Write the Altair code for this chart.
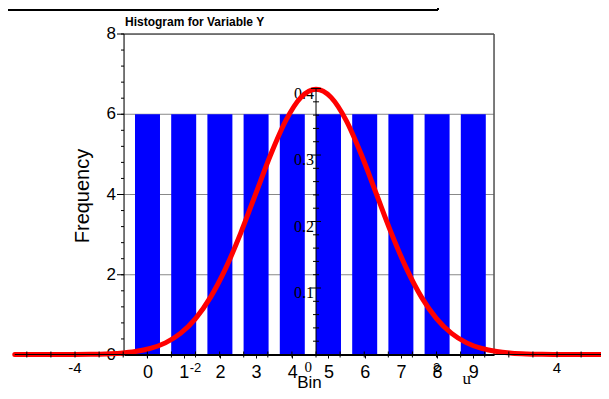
import altair as alt
import pandas as pd

# ---------------- data ----------------
bins = [0, 1, 2, 3, 4, 5, 6, 7, 8, 9]
freq = [6, 6, 6, 6, 6, 6, 6, 6, 6, 6]
freq_ticks = [0, 2, 4, 6, 8]
freq_labels = ["0", "2", "4", "6", "8"]
grid_vals = [2, 4, 6]
freq_minor = [round(0.4 * i, 1) for i in range(21)]

# red curve
curve_u = [-5.0, -4.5, -4.0, -3.75, -3.5, -3.25, -3.0, -2.75, -2.5, -2.25, -2.0, -1.75, -1.5,
           -1.25, -1.0, -0.75, -0.5, -0.25, 0.0, 0.25, 0.5, 0.75, 1.0, 1.25, 1.5, 1.75,
           2.0, 2.25, 2.5, 2.75, 3.0, 3.25, 3.5, 3.75, 4.0, 4.5, 5.0]
curve_d = [0.0, 0.0, 0.0001, 0.0004, 0.0009, 0.002, 0.0044, 0.0091, 0.0175, 0.0317, 0.054, 0.0863, 0.1295,
           0.1826, 0.242, 0.3011, 0.3521, 0.3867, 0.3989, 0.3867, 0.3521, 0.3011, 0.242, 0.1826, 0.1295, 0.0863,
           0.054, 0.0317, 0.0175, 0.0091, 0.0044, 0.002, 0.0009, 0.0004, 0.0001, 0.0, 0.0]

u_label_pos = [-4, -2, 2, 4]
u_label_txt = ["-4", "-2", "2", "4"]
u_label_size = [15, 13, 13, 15]
u_minor = [round(0.4 * i, 1) for i in range(-12, 13)]
d_label_pos = [0.1, 0.2, 0.3, 0.4]
d_label_txt = ["0.1", "0.2", "0.3", "0.4"]
d_minor = [round(0.02 * i, 2) for i in range(1, 21)]

title_txt = "Histogram for Variable Y"
y_title_txt = "Frequency"

W, H = 370, 321

# ---------------- main histogram ----------------
mx = alt.Scale(domain=[-0.649, 9.572], nice=False, zero=False, padding=0)
my = alt.Scale(domain=[0, 8], nice=False, zero=False, padding=0)

grid_df = pd.DataFrame({"g": grid_vals})
grid = alt.Chart(grid_df).mark_rule(color="#888888", strokeWidth=1).encode(
    y=alt.Y("g:Q", scale=my, axis=None), x=alt.value(0), x2=alt.value(W))

# custom left (frequency) axis
ylab_df = pd.DataFrame({"v": freq_ticks, "t": freq_labels})
ylabels = alt.Chart(ylab_df).mark_text(
    font="Liberation Sans", fontSize=17, align="right", baseline="middle", color="black"
).encode(y=alt.Y("v:Q", scale=my, axis=None), x=alt.value(-8), text="t:N")
ymajor = alt.Chart(ylab_df).mark_rule(color="black", strokeWidth=1).encode(
    y=alt.Y("v:Q", scale=my, axis=None), x=alt.value(-7), x2=alt.value(0))
fm_df = pd.DataFrame({"v": freq_minor})
fminor = alt.Chart(fm_df).mark_rule(color="black", strokeWidth=1).encode(
    y=alt.Y("v:Q", scale=my, axis=None), x=alt.value(-3), x2=alt.value(0))

ytitle_df = pd.DataFrame({"t": [y_title_txt]})
ytitle = alt.Chart(ytitle_df).mark_text(
    font="Liberation Sans", fontSize=20, angle=270, align="center", baseline="middle", color="black"
).encode(text="t:N", x=alt.value(-41), y=alt.value(162))

frame_df = pd.DataFrame({"k": [1]})
yline = alt.Chart(frame_df).mark_rule(color="black", strokeWidth=1).encode(
    x=alt.value(0), y=alt.value(0), y2=alt.value(H))

bars_df = pd.DataFrame({"bin": bins, "freq": freq})
bars = alt.Chart(bars_df).mark_bar(color="#0000FF", width=25).encode(
    x=alt.X("bin:Q", scale=mx, axis=alt.Axis(
        values=bins, title="Bin", format="d", zindex=1,
        labelFontSize=18, labelFont="Liberation Sans", labelColor="black",
        tickSize=3, tickColor="black", domainColor="black", labelPadding=5,
        titleFontSize=17, titleFont="Liberation Sans", titleFontWeight="normal",
        titleColor="black", titleBaseline="alphabetic", titleY=32, grid=False)),
    y=alt.Y("freq:Q", scale=my, axis=None),
)

frame_top = alt.Chart(frame_df).mark_rule(color="black", strokeWidth=1).encode(
    x=alt.value(0), x2=alt.value(W), y=alt.value(0))
frame_right = alt.Chart(frame_df).mark_rule(color="#555555", strokeWidth=1.5).encode(
    x=alt.value(W), y=alt.value(0), y2=alt.value(H))

title_df = pd.DataFrame({"t": [title_txt]})
title = alt.Chart(title_df).mark_text(
    font="Liberation Sans", fontWeight="bold", fontSize=12,
    align="left", baseline="alphabetic", color="black"
).encode(text="t:N", x=alt.value(1), y=alt.value(-8))

box_h = alt.Chart(frame_df).mark_rule(color="black", strokeWidth=2).encode(
    x=alt.value(-116), x2=alt.value(314), y=alt.value(-24))
box_v = alt.Chart(frame_df).mark_rule(color="black", strokeWidth=2).encode(
    x=alt.value(314), y=alt.value(-40), y2=alt.value(-24))

main = alt.layer(grid, ylabels, ytitle, bars, ymajor, fminor, yline,
                 frame_top, frame_right, title, box_h, box_v)

# ---------------- overlaid curve with its own axes ----------------
cx = alt.Scale(domain=[-3.187, 2.954], nice=False, zero=False, padding=0)
cy = alt.Scale(domain=[-0.00075, 0.482], nice=False, zero=False, padding=0)

curve_df = pd.DataFrame({"u": curve_u, "d": curve_d})

ulab_df = pd.DataFrame({"u": u_label_pos, "t": u_label_txt, "fs": u_label_size})
ulab = alt.Chart(ulab_df).transform_calculate(d0="0").mark_text(
    font="Liberation Sans", baseline="middle", align="center", dy=13, color="black"
).encode(x=alt.X("u:Q", scale=cx, axis=None), y=alt.Y("d0:Q", scale=cy, axis=None),
         text="t:N", size=alt.Size("fs:Q", scale=None, legend=None))

zero_df = pd.DataFrame({"u": [0], "t": ["0"]})
zlab = alt.Chart(zero_df).transform_calculate(d0="0").mark_text(
    font="Liberation Serif", fontSize=15, baseline="middle", align="right", dx=-4, dy=12, color="black"
).encode(x=alt.X("u:Q", scale=cx, axis=None), y=alt.Y("d0:Q", scale=cy, axis=None), text="t:N")

uname_df = pd.DataFrame({"u": [2.5], "t": ["u"]})
uname = alt.Chart(uname_df).transform_calculate(d0="0").mark_text(
    font="Liberation Serif", fontSize=17, baseline="middle", align="center", dy=24, color="black"
).encode(x=alt.X("u:Q", scale=cx, axis=None), y=alt.Y("d0:Q", scale=cy, axis=None), text="t:N")

dlab_df = pd.DataFrame({"d": d_label_pos, "t": d_label_txt})
dlab = alt.Chart(dlab_df).transform_calculate(u0="0").mark_text(
    font="Liberation Serif", fontSize=16, baseline="middle", align="right", dx=-2, dy=5, color="black"
).encode(x=alt.X("u0:Q", scale=cx, axis=None), y=alt.Y("d:Q", scale=cy, axis=None), text="t:N")

curve = alt.Chart(curve_df).mark_line(
    color="#FF0000", strokeWidth=5, strokeCap="round", strokeJoin="round", interpolate="monotone"
).encode(x=alt.X("u:Q", scale=cx, axis=None), y=alt.Y("d:Q", scale=cy, axis=None))

uaxis_df = pd.DataFrame({"a": [-5.0], "b": [5.0]})
uaxis = alt.Chart(uaxis_df).transform_calculate(d0="0").mark_rule(color="black", strokeWidth=1).encode(
    x=alt.X("a:Q", scale=cx, axis=None), x2="b:Q", y=alt.Y("d0:Q", scale=cy, axis=None))

uticks_df = pd.DataFrame({"u": u_minor})
uticks = alt.Chart(uticks_df).transform_calculate(y0="-0.0045", y1="0.0045").mark_rule(
    color="black", strokeWidth=1).encode(
    x=alt.X("u:Q", scale=cx, axis=None), y=alt.Y("y0:Q", scale=cy, axis=None), y2="y1:Q")

daxis_df = pd.DataFrame({"a": [0.0], "b": [0.4]})
daxis = alt.Chart(daxis_df).transform_calculate(u0="0").mark_rule(color="black", strokeWidth=1).encode(
    x=alt.X("u0:Q", scale=cx, axis=None), y=alt.Y("a:Q", scale=cy, axis=None), y2="b:Q")

dticks_df = pd.DataFrame({"d": d_minor})
dticks = alt.Chart(dticks_df).transform_calculate(
    x0="abs(datum.d*10 - round(datum.d*10)) < 0.001 ? -0.083 : -0.05",
    x1="abs(datum.d*10 - round(datum.d*10)) < 0.001 ? 0.083 : 0.05").mark_rule(
    color="black", strokeWidth=1).encode(
    x=alt.X("x0:Q", scale=cx, axis=None), x2="x1:Q", y=alt.Y("d:Q", scale=cy, axis=None))

over = alt.layer(ulab, zlab, uname, dlab, curve, uaxis, uticks, daxis, dticks)

chart = alt.layer(main, over).resolve_scale(x="independent", y="independent").properties(
    width=W, height=H,
    autosize=alt.AutoSizeParams(type="none"),
    padding={"left": 116, "top": 26, "right": 107, "bottom": 36},
).configure_view(stroke="transparent", strokeWidth=0).configure(background="white")

chart.save("out.html", embed_options={"renderer": "svg", "actions": False})
